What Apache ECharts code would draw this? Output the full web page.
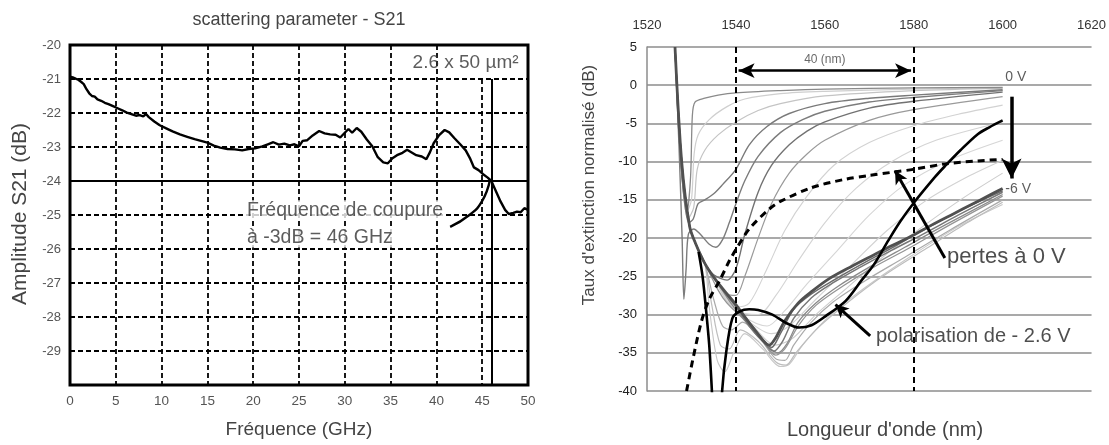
<!DOCTYPE html>
<html>
<head>
<meta charset="utf-8">
<script src="https://cdn.jsdelivr.net/npm/echarts/dist/echarts.min.js"></script>
<style>
html,body{margin:0;padding:0;background:#fff}
#main{width:1109px;height:445px}
</style>
</head>
<body>
<div id="main"></div>
<script>
// ---- left panel : S21 vs frequency ----
var freqTicks = [5, 10, 15, 20, 25, 30, 35, 40, 45];
var cutoffFreq = 46;
var cutoffLevel = -24;
var s21 = [
  [0,-20.93],[0.3,-20.95],[0.6,-20.99],[0.9,-21.02],[1.2,-21.08],[1.5,-21.15],[1.8,-21.3],[2.1,-21.42],
  [2.4,-21.5],[2.7,-21.52],[3,-21.6],[3.4,-21.64],[3.8,-21.7],[4.2,-21.74],[4.7,-21.8],[5.2,-21.86],
  [5.7,-21.92],[6.2,-21.99],[6.7,-22.03],[7.2,-22.08],[7.6,-22.06],[8,-22.1],[8.3,-22.03],[8.6,-22.12],
  [9.2,-22.25],[9.8,-22.36],[10.5,-22.45],[11.2,-22.54],[12,-22.63],[12.8,-22.7],[13.6,-22.77],[14.3,-22.82],
  [15,-22.87],[15.7,-22.96],[16.4,-23.02],[17.2,-23.06],[18,-23.07],[18.8,-23.1],[19.5,-23.06],[20.2,-23.04],
  [21,-22.98],[21.6,-22.92],[22.2,-22.86],[22.8,-22.93],[23.4,-22.9],[24,-22.95],[24.5,-22.92],[25,-22.98],
  [25.4,-22.82],[25.9,-22.8],[26.5,-22.66],[27.2,-22.53],[27.8,-22.6],[28.4,-22.63],[29,-22.64],[29.5,-22.72],
  [30,-22.58],[30.4,-22.47],[30.8,-22.58],[31.3,-22.44],[31.8,-22.55],[32.4,-22.78],[33,-22.98],[33.6,-23.3],
  [34.2,-23.45],[34.7,-23.48],[35.2,-23.33],[35.7,-23.24],[36.3,-23.17],[36.8,-23.08],[37.3,-23.16],[37.8,-23.24],
  [38.4,-23.28],[38.9,-23.36],[39.3,-23.15],[39.7,-22.89],[40.3,-22.65],[40.9,-22.5],[41.4,-22.57],[42,-22.75],
  [42.6,-22.92],[43.2,-23.1],[43.7,-23.35],[44.1,-23.6],[44.6,-23.68],[45.1,-23.8],[45.6,-23.9],[46,-24.0],
  [46.5,-24.3],[47,-24.6],[47.5,-24.85],[47.9,-24.97],[48.4,-24.94],[48.8,-24.9],[49.2,-24.92],[49.6,-24.8],[50,-24.85]
];
var cutoffArc = [[41.5,-25.35],[43.6,-25.0],[44.97,-24.6],[45.85,-23.97]];

// ---- right panel : extinction vs wavelength ----
var wlTicks = [1540, 1580];
var descent = [[1526.3,5],[1527.8,-10],[1529.6,-18.5],[1531,-20.8],[1533,-23.3]];
var v0 = [[1526.3,5],[1527.6,-10],[1529,-16.5],[1529.8,-12],[1530.2,-4],[1530.8,-2.2],[1533,-1.7],[1536,-1.3],[1540,-1],[1550,-0.7],[1560,-0.5],[1580,-0.35],[1600,-0.3]];
var v1 = [[1526.3,5],[1527.6,-10],[1529,-16.5],[1530,-15],[1530.6,-9],[1531.5,-6.5],[1534,-4.5],[1538,-2.8],[1542,-1.8],[1550,-1.1],[1560,-0.8],[1580,-0.5],[1600,-0.35]];
var v2 = [[1526.3,5],[1527.6,-10],[1529.2,-17.5],[1530.5,-16],[1531.3,-11],[1533,-8.5],[1536,-6.5],[1540,-4.8],[1545,-3.3],[1550,-2.4],[1560,-1.4],[1580,-0.7],[1600,-0.4]];
var v3 = [[1526.3,5],[1527.6,-10],[1529.4,-18],[1530.4,-17.5],[1531.5,-15.5],[1533,-15],[1535,-14.2],[1537,-13],[1540,-11],[1543,-7.8],[1547,-5.4],[1552,-3.7],[1560,-2.4],[1570,-1.7],[1580,-1.3],[1600,-0.6]];
var v4 = [[1526.3,5],[1527.2,-8],[1527.9,-20],[1528.3,-28],[1528.8,-24],[1529.3,-19.5],[1530.5,-18.8],[1532,-19.5],[1534,-20.8],[1535.5,-21.2],[1537,-20.2],[1538.5,-18],[1540,-15.5],[1542,-12.5],[1545,-9.3],[1550,-6.2],[1555,-4.5],[1560,-3.4],[1570,-2.2],[1580,-1.6],[1600,-0.7]];
var v5 = descent.concat([[1535,-24.8],[1538,-25.5],[1540,-24],[1542,-19.5],[1545,-14],[1548,-10.5],[1552,-7.8],[1556,-6],[1560,-4.8],[1570,-3],[1580,-2.1],[1600,-0.9]]);
var v6 = descent.concat([[1535.5,-25.5],[1538,-27.3],[1540,-27.5],[1542,-25],[1545,-20],[1548,-15.5],[1552,-11.5],[1556,-9],[1560,-7.2],[1570,-4.6],[1580,-3.2],[1600,-1.5]]);
var v7 = descent.concat([[1535.5,-25.5],[1538,-27.5],[1540,-29],[1543,-28.5],[1547,-24],[1551,-19],[1556,-14.5],[1562,-10.5],[1570,-7.5],[1580,-5.3],[1590,-3.8],[1600,-2.6]]);
var v8 = descent.concat([[1535.5,-25.5],[1538,-27.8],[1540,-29.5],[1545,-30],[1549,-27.5],[1554,-23],[1560,-18],[1567,-13.5],[1575,-10],[1585,-7.2],[1600,-4.8]]);
var v9 = descent.concat([[1535.5,-25.6],[1538,-28],[1541,-30],[1547,-31.5],[1551,-29.5],[1556,-26],[1563,-21.5],[1570,-17],[1578,-13],[1588,-9.8],[1600,-7.2]]);
var v10 = descent.concat([[1535.5,-25.6],[1538,-28.2],[1542,-30.5],[1548,-32.5],[1552,-31.5],[1558,-28],[1566,-23.5],[1574,-19],[1583,-15],[1592,-12],[1600,-9.8]]);
var v11 = descent.concat([[1535.5,-25.7],[1538,-28.3],[1543,-31],[1549,-34],[1553,-33],[1558,-30],[1565,-26.5],[1573,-22.5],[1582,-18.5],[1591,-14.8],[1600,-11.5]]);
var b5 = descent.concat([[1534,-29],[1535.8,-36],[1537.5,-37.5],[1539.5,-35],[1542,-32.5],[1546,-34.5],[1550,-36.8],[1552,-36.5],[1555,-34],[1561,-30.2],[1569,-26.5],[1579,-22.5],[1590,-18.5],[1600,-15.6]]);
var b4 = descent.concat([[1534.5,-28.5],[1536.5,-34],[1538.5,-34.5],[1541,-32],[1545,-33.5],[1549,-36.2],[1551.3,-36.6],[1553.5,-35],[1558,-32],[1565,-28.5],[1573,-25],[1583,-21.3],[1592,-18],[1600,-15.3]]);
var b3 = descent.concat([[1535,-28],[1537,-31.5],[1539,-32],[1541.5,-31],[1545,-32.8],[1549,-35.8],[1551,-36],[1553,-34],[1557,-31],[1562,-28.3],[1569,-25.6],[1578,-22.5],[1588,-19],[1600,-15]]);
var b2 = descent.concat([[1536,-26.8],[1538,-28.5],[1541,-30.2],[1545,-32.5],[1549,-35.3],[1551,-34.5],[1554,-31.5],[1558,-28.8],[1564,-26.3],[1571,-23.8],[1579,-21.3],[1588,-18.3],[1600,-14.5]]);
var b7 = descent.concat([[1536,-26],[1539,-28.6],[1542,-30.8],[1545.5,-33.2],[1549.5,-35],[1551.5,-33.8],[1554,-31],[1558,-28.5],[1563,-26.3],[1570,-23.8],[1578,-21.2],[1587,-18.3],[1600,-14.3]]);
var b1 = descent.concat([[1535.5,-25.5],[1538,-27.5],[1540,-29],[1543,-31.5],[1546,-33.5],[1548.5,-34.8],[1550.5,-33.5],[1553,-30.5],[1557,-27.8],[1562,-25.8],[1568,-23.8],[1575,-21.6],[1582,-19.5],[1590,-17],[1600,-14]]);
var b6 = descent.concat([[1535.5,-25.5],[1538,-27.4],[1540,-28.8],[1543,-31],[1546,-33.2],[1548,-34.3],[1550,-32.5],[1553,-29.3],[1557,-27.3],[1562,-25.5],[1568,-23.5],[1575,-21.3],[1582,-19],[1590,-16.5],[1600,-13.8]]);
var b0 = descent.concat([[1535.5,-25.5],[1538,-27.3],[1540,-28.7],[1542,-30.3],[1544.5,-32.2],[1547.5,-34],[1549,-33],[1551,-30.8],[1554,-28.5],[1557,-27],[1561,-25.3],[1566,-23.7],[1571,-22.2],[1575,-21],[1580,-19.6],[1584,-18.3],[1589,-16.8],[1593,-15.6],[1597,-14.4],[1600,-13.5]]);
var polar26 = [[1531.6,-21.8],[1532.5,-25],[1533.3,-29.5],[1534,-34],[1534.6,-40],[1535.3,-48],[1536.2,-48],[1536.9,-40],[1537.8,-35],[1539.2,-30.5],[1540.8,-29.6],[1543,-29.3],[1545,-29.4],[1548.2,-30],[1551.3,-31.1],[1554.2,-31.7],[1557,-31.4],[1560.2,-30.2],[1564.7,-28.2],[1568.3,-25.5],[1571,-23.5],[1574.3,-20.3],[1577,-17.8],[1580,-15.4],[1584.8,-12],[1587,-10.6],[1590.5,-8.5],[1594.4,-6.4],[1597,-5.5],[1600,-4.6]];
var losses0V = [[1528.9,-40],[1530.3,-35.9],[1532.2,-31],[1534,-28],[1536.3,-25.6],[1538.5,-23],[1540,-21.5],[1543,-18.8],[1547.5,-16.2],[1550,-15.2],[1557,-13.4],[1564.6,-12.3],[1570,-11.8],[1575,-11.4],[1580,-11],[1587,-10.3],[1594.4,-9.9],[1600,-9.7]];

var grayCurves = [v1, v2, v7, v8, v9, v10, v11, b5, b4, b3, v0, v3, v4, v5, v6, b2, b7, b1, b6, b0];
var grayColors = ['#cfcfcf','#c4c4c4','#d2d2d2','#d4d4d4','#d6d6d6','#d2d2d2','#cccccc','#c8c8c8','#bdbdbd','#aaaaaa','#8a8a8a','#7a7a7a','#7c7c7c','#727272','#9a9a9a','#959595','#8a8a8a','#777777','#6a6a6a','#505050'];
var grayWidths = [1.2,1.2,1.1,1.1,1.1,1.1,1.1,1.1,1.2,1.2,1.3,1.4,1.4,1.4,1.2,1.3,1.3,1.5,1.5,2.8];

var FONT = 'Liberation Sans, Arial, sans-serif';

var chart = echarts.init(document.getElementById('main'));

function curve(data, color, width, extra) {
  var s = {
    type: 'line', xAxisIndex: 1, yAxisIndex: 1, data: data,
    showSymbol: false, symbol: 'none', smooth: 0.3, silent: true,
    lineStyle: { color: color, width: width }, z: 2
  };
  for (var k in extra) s[k] = extra[k];
  return s;
}

function texts(axis, items) {
  return {
    type: 'scatter', xAxisIndex: axis, yAxisIndex: axis, symbolSize: 0, silent: true, z: 20,
    data: items.map(function (t) {
      return { name: t.text, value: t.at, label: t.label };
    }),
    label: { show: true, formatter: '{b}', fontFamily: FONT, color: '#333' }
  };
}

var series = [];

// left
var gridMarks = freqTicks.map(function (f) {
  return [{ coord: [f, f === 45 ? -21 : -20] }, { coord: [f, -30] }];
});
gridMarks.push([{ coord: [cutoffFreq, -21], lineStyle: { type: 'solid', width: 2 } }, { coord: [cutoffFreq, -30] }]);
gridMarks.push([{ coord: [0, cutoffLevel], lineStyle: { type: 'solid', width: 2 } }, { coord: [50, cutoffLevel] }]);
series.push({
  type: 'line', xAxisIndex: 0, yAxisIndex: 0, data: s21, showSymbol: false, symbol: 'none',
  lineStyle: { color: '#000', width: 2.4 }, silent: true, z: 5,
  markLine: {
    silent: true, symbol: ['none', 'none'], label: { show: false },
    lineStyle: { color: '#000', type: [5, 3], width: 1.8 },
    data: gridMarks
  }
});
series.push({
  type: 'line', xAxisIndex: 0, yAxisIndex: 0, data: cutoffArc, showSymbol: false, symbol: 'none',
  smooth: 0.5, lineStyle: { color: '#000', width: 2.4 }, silent: true, z: 5
});
series.push(texts(0, [
  { text: '2.6 x 50 µm²', at: [37.4, -20.53], label: { position: 'right', distance: 0, fontSize: 19 } },
  { text: 'Fréquence de coupure', at: [19.1, -24.86], label: { position: 'right', distance: 0, fontSize: 19.5, backgroundColor: '#fff', padding: [0, 2, 0, 2] } },
  { text: 'à -3dB = 46 GHz', at: [19.1, -25.66], label: { position: 'right', distance: 0, fontSize: 19.5, backgroundColor: '#fff', padding: [0, 2, 0, 2] } }
]));

// right
grayCurves.forEach(function (c, i) {
  series.push(curve(c, grayColors[i], grayWidths[i]));
});
series.push(curve(losses0V, '#000', 3, {
  lineStyle: { color: '#000', width: 3, type: [7, 5] }, z: 6,
  markLine: {
    silent: true, symbol: ['none', 'none'], label: { show: false },
    lineStyle: { color: '#000', type: [6, 4], width: 2 },
    data: wlTicks.map(function (w) { return [{ coord: [w, 5] }, { coord: [w, -40] }]; })
  }
}));
series.push(curve(polar26, '#000', 2.6, {
  z: 7,
  markLine: {
    silent: true, symbol: ['none', 'arrow'], symbolSize: [10, 13], label: { show: false },
    lineStyle: { color: '#000', type: 'solid', width: 3 },
    data: [
      [{ coord: [1587, -22.6] }, { coord: [1575.8, -11.2] }],
      [{ coord: [1570.2, -32.8] }, { coord: [1562.4, -28.7] }]
    ]
  }
}));
series.push(curve([], '#000', 0, {
  markLine: {
    silent: true, symbol: ['arrow', 'arrow'], symbolSize: [11, 16], label: { show: false },
    lineStyle: { color: '#000', type: 'solid', width: 2.5 },
    data: [[{ coord: [1540.6, 1.9] }, { coord: [1579.4, 1.9] }]]
  }
}));
series.push(curve([], '#000', 0, {
  markLine: {
    silent: true, symbol: ['none', 'arrow'], symbolSize: [15, 20], label: { show: false },
    lineStyle: { color: '#000', type: 'solid', width: 3.5 },
    data: [[{ coord: [1602, -1.5] }, { coord: [1602, -12.2] }]]
  }
}));
series.push(texts(1, [
  { text: '40 (nm)', at: [1560, 3.3], label: { position: 'inside', fontSize: 12, color: '#444' } },
  { text: '0 V', at: [1600.6, 1.1], label: { position: 'right', distance: 0, fontSize: 14 } },
  { text: '-6 V', at: [1600.6, -13.6], label: { position: 'right', distance: 0, fontSize: 14 } },
  { text: 'pertes à 0 V', at: [1587.5, -22.5], label: { position: 'right', distance: 0, fontSize: 22, color: '#222' } },
  { text: 'polarisation de - 2.6 V', at: [1571.5, -32.9], label: { position: 'right', distance: 0, fontSize: 20, color: '#222' } }
]));

var option = {
  animation: false,
  backgroundColor: '#fff',
  textStyle: { fontFamily: FONT },
  grid: [
    { left: 70, top: 45, width: 458, height: 340, show: true, borderColor: '#000', borderWidth: 3, backgroundColor: 'transparent' },
    { left: 647, top: 47, width: 447, height: 344 }
  ],
  xAxis: [
    {
      gridIndex: 0, type: 'value', min: 0, max: 50, interval: 5,
      axisLine: { show: false }, axisTick: { show: false }, splitLine: { show: false },
      axisLabel: { margin: 9, fontSize: 13.5, color: '#555', fontFamily: FONT }
    },
    {
      gridIndex: 1, type: 'value', position: 'top', min: 1520, max: 1620, interval: 20,
      axisLine: { show: false }, axisTick: { show: false }, splitLine: { show: false },
      axisLabel: { margin: 15, fontSize: 13, color: '#333', fontFamily: FONT,
        formatter: function (v) { return String(v); } }
    }
  ],
  yAxis: [
    {
      gridIndex: 0, type: 'value', min: -30, max: -20, interval: 1,
      axisLine: { show: false }, axisTick: { show: false },
      axisLabel: { margin: 9, fontSize: 13, color: '#555', fontFamily: FONT,
        formatter: function (v) { return v === -30 ? '' : v; } },
      splitLine: { show: true, lineStyle: { color: '#000', type: [5, 3], width: 1.8 } }
    },
    {
      gridIndex: 1, type: 'value', min: -40, max: 5, interval: 5,
      axisLine: { show: true, lineStyle: { color: '#8c8c8c', width: 1.5 } }, axisTick: { show: false },
      axisLabel: { margin: 10, fontSize: 13, color: '#222', fontFamily: FONT },
      splitLine: { show: true, lineStyle: { color: '#8c8c8c', width: 1.5 } }
    }
  ],
  graphic: [
    { type: 'text', x: 299, y: 20, style: { text: 'scattering parameter - S21', fill: '#444', font: '18px ' + FONT, textAlign: 'center', textVerticalAlign: 'middle' } },
    { type: 'text', x: 20, y: 214, rotation: Math.PI / 2, style: { text: 'Amplitude S21 (dB)', fill: '#444', font: '21px ' + FONT, textAlign: 'center', textVerticalAlign: 'middle' } },
    { type: 'text', x: 299, y: 430, style: { text: 'Fréquence (GHz)', fill: '#444', font: '19px ' + FONT, textAlign: 'center', textVerticalAlign: 'middle' } },
    { type: 'text', x: 589, y: 185, rotation: Math.PI / 2, style: { text: "Taux d'extinction normalisé (dB)", fill: '#444', font: '17px ' + FONT, textAlign: 'center', textVerticalAlign: 'middle' } },
    { type: 'text', x: 885, y: 430, style: { text: "Longueur d'onde (nm)", fill: '#444', font: '20px ' + FONT, textAlign: 'center', textVerticalAlign: 'middle' } }
  ],
  series: series
};

chart.setOption(option);
</script>
</body>
</html>
